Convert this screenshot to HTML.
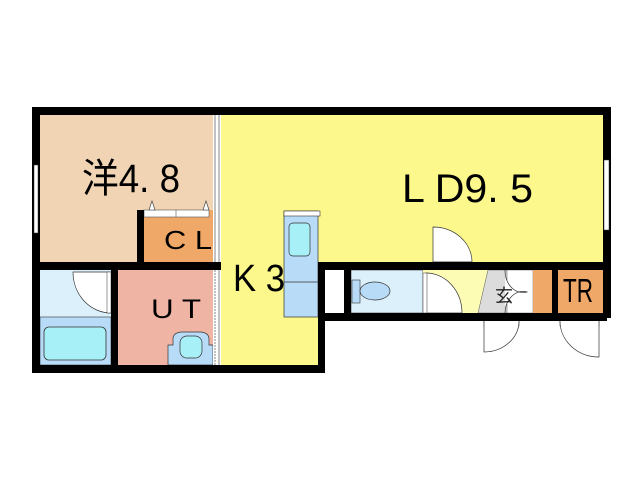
<!DOCTYPE html>
<html><head><meta charset="utf-8"><style>html,body{margin:0;padding:0;background:#fff}svg{display:block}</style></head>
<body>
<svg width="640" height="480" viewBox="0 0 640 480" xmlns="http://www.w3.org/2000/svg" font-family="Liberation Sans, Noto Sans CJK JP, sans-serif">
<rect x="40" y="115" width="173" height="147" fill="#f0d4b4"/>
<rect x="221" y="115" width="382" height="147" fill="#fcf88c"/>
<rect x="221" y="262" width="97" height="103" fill="#fcf88c"/>
<rect x="144" y="210" width="69" height="52" fill="#f0a868"/>
<rect x="144" y="210" width="65" height="7" fill="#fff" stroke="#555" stroke-width="0.6"/>
<line x1="176" y1="210" x2="176" y2="217" stroke="#555" stroke-width="0.6"/>
<path d="M149 210 l3 -9 l3 9z M203 210 l3 -9 l3 9z" fill="#fff" stroke="#333" stroke-width="0.6"/>
<rect x="40" y="270" width="71" height="47" fill="#dcf0fc"/>
<rect x="40" y="317" width="71" height="48" fill="#b8dcf8" stroke="#333" stroke-width="0.6"/>
<rect x="44" y="327" width="62" height="33" rx="5" fill="#a8f0f8" stroke="#333" stroke-width="0.8"/>
<path d="M111 272 L73 272 A38 41 0 0 0 111 313 Z" fill="#fff" stroke="#333" stroke-width="0.7"/>
<rect x="107" y="272" width="4" height="41" fill="#fff" stroke="#333" stroke-width="0.5"/>
<rect x="118" y="270" width="95" height="95" fill="#f0b4a4"/>
<path d="M168 365 V345 h5 v-6 q0 -6 8 -7 h20 q8 1 8 7 v6 h4 V365z" fill="#b8dcf8" stroke="#333" stroke-width="0.7"/>
<rect x="180" y="336" width="22" height="22" rx="7" fill="#a8f0f8" stroke="#333" stroke-width="0.7"/>
<rect x="284" y="211" width="34" height="106" fill="#b8dcf8" stroke="#333" stroke-width="0.7"/>
<rect x="284" y="211" width="36" height="5" fill="#fff" stroke="#333" stroke-width="0.6"/>
<rect x="289" y="223" width="21" height="33" rx="4" fill="#a8f0f8" stroke="#333" stroke-width="0.7"/>
<line x1="284" y1="282" x2="318" y2="282" stroke="#333" stroke-width="0.7"/>
<rect x="325" y="270" width="19" height="43" fill="#fff"/>
<rect x="351" y="270" width="72" height="43" fill="#dcf0fc" stroke="#333" stroke-width="0.6"/>
<rect x="352" y="280" width="8" height="23" fill="#b8dcf8" stroke="#333" stroke-width="0.6"/>
<ellipse cx="375" cy="291" rx="15" ry="9" fill="#b8dcf8" stroke="#333" stroke-width="0.7"/>
<rect x="423" y="270" width="69" height="43" fill="#fcfcb4"/>
<path d="M426 273 V313 H462 A36 40 0 0 0 426 273Z" fill="#fff" stroke="#333" stroke-width="0.7"/>
<rect x="423" y="273" width="4" height="40" fill="#fff" stroke="#333" stroke-width="0.5"/>
<path d="M488 270 H533 V313 H478Z" fill="#dcdcdc" stroke="#555" stroke-width="0.5"/>
<rect x="507" y="270" width="26" height="43" fill="#fff" stroke="#555" stroke-width="0.5"/>
<path d="M505 270 A18 22 0 0 0 527 292 A18 22 0 0 0 505 313" fill="#fff" stroke="#333" stroke-width="0.7"/>
<text x="495" y="302" font-size="18" fill="#222">玄</text>
<rect x="533" y="270" width="19" height="43" fill="#f0a868"/>
<rect x="558" y="270" width="45" height="43" fill="#f0a868"/>
<path d="M433 227 V262 H472 A39 35 0 0 0 433 227Z" fill="#fff" stroke="#333" stroke-width="0.7"/>
<rect x="433" y="262" width="39" height="6" fill="#fff" stroke="#333" stroke-width="0.5"/>
<rect x="484" y="321" width="35" height="5" fill="#fff" stroke="#333" stroke-width="0.5"/>
<path d="M484 321 V352 A35 31 0 0 0 519 321" fill="#fff" stroke="#333" stroke-width="0.7"/>
<rect x="560" y="321" width="39" height="5" fill="#fff" stroke="#333" stroke-width="0.5"/>
<path d="M599 321 V357 A39 36 0 0 1 560 321" fill="#fff" stroke="#333" stroke-width="0.7"/>
<g fill="#000">
<rect x="32" y="107" width="579" height="8"/>
<rect x="32" y="107" width="8" height="266"/>
<rect x="32" y="365" width="293" height="8"/>
<rect x="318" y="262" width="7" height="111"/>
<rect x="318" y="262" width="293" height="8"/>
<rect x="318" y="313" width="289" height="8"/>
<rect x="603" y="107" width="8" height="211"/>
<rect x="32" y="262" width="189" height="8"/>
<rect x="137" y="210" width="7" height="52"/>
<rect x="111" y="262" width="7" height="111"/>
<rect x="344" y="270" width="7" height="43"/>
<rect x="552" y="270" width="6" height="43"/>
</g>
<rect x="34" y="165" width="4" height="68" fill="#fff" stroke="#333" stroke-width="0.5"/>
<rect x="604" y="160" width="5" height="70" fill="#fff" stroke="#333" stroke-width="0.5"/>
<rect x="213" y="115" width="8" height="147" fill="#fff"/>
<line x1="215" y1="115" x2="215" y2="262" stroke="#333" stroke-width="0.6"/><line x1="219" y1="115" x2="219" y2="262" stroke="#333" stroke-width="0.6"/>
<rect x="213" y="270" width="8" height="95" fill="#fff"/>
<line x1="215" y1="270" x2="215" y2="365" stroke="#333" stroke-width="0.6" stroke-dasharray="2 1"/><line x1="219" y1="270" x2="219" y2="365" stroke="#333" stroke-width="0.6"/>
<text x="82" y="192" font-size="40" textLength="98" lengthAdjust="spacingAndGlyphs">洋4. 8</text>
<text x="402" y="202" font-size="40" textLength="131" lengthAdjust="spacingAndGlyphs">L D9. 5</text>
<text x="233" y="291" font-size="38" textLength="52" lengthAdjust="spacingAndGlyphs">K 3</text>
<text x="151" y="318" font-size="27" textLength="50" lengthAdjust="spacingAndGlyphs">U T</text>
<text x="164" y="249" font-size="26" textLength="48" lengthAdjust="spacingAndGlyphs">C L</text>
<text x="563" y="302" font-size="33" textLength="30" lengthAdjust="spacingAndGlyphs">TR</text>
</svg>
</body></html>
